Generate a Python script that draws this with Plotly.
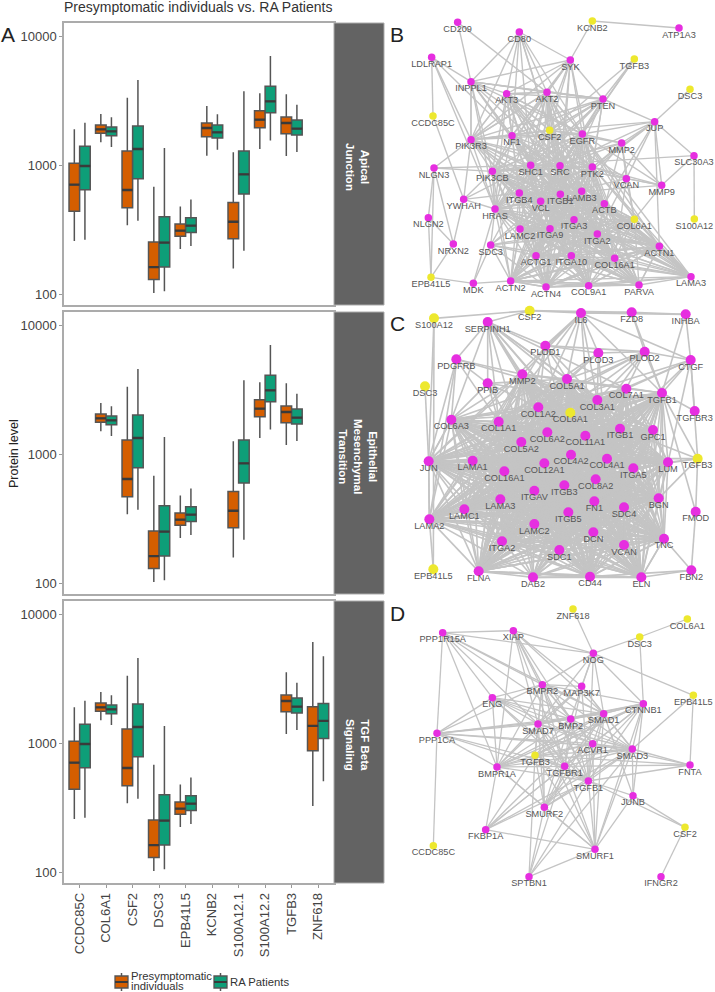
from itertools import combinations

import plotly.graph_objects as go

W, H = 715, 992

# protein levels
GENES = ["CCDC85C", "COL6A1", "CSF2", "DSC3", "EPB41L5", "KCNB2", "S100A12.1", "S100A12.2", "TGFB3", "ZNF618"]
PRE_LOW = [258, 1510, 342, 102, 224, 1189, 158, 1340, 1183, 326]
PRE_Q1 = [439, 1773, 469, 130, 281, 1671, 269, 1963, 1762, 875]
PRE_MED = [708, 1905, 643, 162, 311, 1950, 365, 2265, 2133, 1368]
PRE_Q3 = [1036, 2057, 1292, 254, 350, 2133, 515, 2660, 2376, 1923]
PRE_HIGH = [1905, 2506, 3357, 683, 480, 2891, 1262, 3630, 3565, 6124]
RA_LOW = [264, 1388, 372, 105, 236, 1324, 217, 1563, 1271, 508]
RA_Q1 = [647, 1700, 788, 162, 301, 1631, 598, 2566, 1722, 1091]
RA_MED = [988, 1837, 1340, 251, 340, 1805, 851, 3141, 1928, 1496]
RA_Q3 = [1406, 1986, 2022, 399, 392, 2057, 1292, 4111, 2249, 2042]
RA_HIGH = [2147, 2360, 4607, 1364, 544, 2490, 3758, 7079, 2962, 4742]

PANEL_1_GENES = ["CCDC85C", "COL6A1", "CSF2", "DSC3", "EPB41L5", "KCNB2", "S100A12.1", "S100A12.2", "TGFB3"]
PANEL_2_GENES = ["COL6A1", "CSF2", "DSC3", "EPB41L5", "S100A12.1", "S100A12.2", "TGFB3"]
PANEL_3_GENES = ["CCDC85C", "COL6A1", "CSF2", "DSC3", "EPB41L5", "TGFB3", "ZNF618"]
STRIP_LABELS = ["<b>Apical<br>Junction</b>", "<b>Epithelial<br>Mesenchymal<br>Transition</b>",
                "<b>TGF Beta<br>Signaling</b>"]

TICK_VALUES = [100, 1000, 10000]
TICK_LABELS = ["100", "1000", "10000"]

# network B: node layout
B_NAMES = ["CD209", "KCNB2", "ATP1A3", "CD80", "LDLRAP1", "SYK", "TGFB3", "INPPL1", "DSC3", "AKT3", "AKT2", "PTEN",
           "CCDC85C", "JUP", "CSF2", "EGFR", "NF1", "PIK3R3", "MMP2", "SLC30A3", "NLGN3", "SHC1", "SRC", "PTK2",
           "PIK3CB", "VCAN", "MMP9", "ITGB4", "ITGB1", "LAMB3", "YWHAH", "VCL", "ACTB", "HRAS", "NLGN2", "ITGA3",
           "COL6A1", "S100A12", "LAMC2", "ITGA9", "ITGA2", "NRXN2", "SDC3", "ACTN1", "ACTG1", "ITGA10", "COL16A1",
           "EPB41L5", "LAMA3", "MDK", "ACTN2", "ACTN4", "COL9A1", "PARVA"]
B_X = [218, 622, 882, 403, 140, 556, 748, 258, 915, 365, 486, 654,
       144, 809, 494, 592, 381, 258, 710, 927, 147, 437, 525, 622,
       322, 724, 830, 403, 526, 590, 236, 467, 658, 330, 130, 567,
       748, 928, 405, 495, 637, 205, 317, 823, 453, 559, 689,
       138, 918, 265, 377, 483, 611, 762]
B_Y = [67, 63, 84, 96, 172, 180, 177, 245, 268, 281, 277, 297,
       348, 365, 391, 402, 407, 419, 429, 467, 504, 496, 497, 501,
       514, 536, 556, 579, 583, 574, 598, 604, 611, 627, 653, 659,
       658, 657, 687, 686, 702, 732, 735, 739, 767, 767, 775,
       832, 830, 850, 843, 861, 857, 855]
B_YELLOW = ["KCNB2", "TGFB3", "DSC3", "CCDC85C", "CSF2", "COL6A1", "S100A12", "EPB41L5"]
B_GROUPS = [
    ["ITGB4", "ITGB1", "LAMB3", "VCL", "ACTB", "ITGA3", "LAMC2", "ITGA9", "ITGA2", "ACTG1", "ITGA10", "COL16A1",
     "ACTN2", "ACTN4", "COL9A1", "PARVA", "LAMA3", "ACTN1", "COL6A1"],
    ["SHC1", "SRC", "PTK2", "EGFR", "ITGB1", "ITGB4", "VCL", "ACTB", "ITGA2", "ITGA3", "ACTN1", "ACTN4", "PARVA",
     "HRAS", "PIK3CB", "ITGA9", "ITGA10", "LAMC2", "LAMB3", "ACTG1", "ACTN2", "COL16A1", "COL9A1", "LAMA3"],
    ["AKT3", "AKT2", "NF1", "PIK3R3", "PIK3CB", "SHC1", "SRC", "PTK2", "EGFR", "HRAS", "PTEN", "INPPL1"],
    ["PIK3R3", "NF1", "CSF2", "EGFR", "AKT2", "AKT3", "ITGB1", "ITGB4", "VCL", "ACTB", "ITGA2", "ITGA3", "LAMB3",
     "ITGA9"],
]
B_EDGES = [
    ("KCNB2", "ATP1A3"), ("KCNB2", "SYK"), ("CD209", "INPPL1"), ("CD209", "AKT2"), ("CD80", "INPPL1"),
    ("CD80", "AKT3"), ("CD80", "AKT2"), ("CD80", "SYK"), ("CD80", "NF1"), ("CD80", "PIK3R3"), ("CD80", "CSF2"),
    ("CD80", "EGFR"), ("CD80", "SRC"), ("CD80", "SHC1"), ("LDLRAP1", "CCDC85C"), ("LDLRAP1", "INPPL1"),
    ("LDLRAP1", "PIK3R3"), ("LDLRAP1", "HRAS"), ("LDLRAP1", "NF1"), ("CCDC85C", "YWHAH"), ("SYK", "INPPL1"),
    ("SYK", "AKT3"), ("SYK", "AKT2"), ("SYK", "PTEN"), ("SYK", "PIK3R3"), ("SYK", "NF1"), ("SYK", "EGFR"),
    ("SYK", "SHC1"), ("SYK", "SRC"), ("SYK", "PTK2"), ("SYK", "PIK3CB"), ("SYK", "CSF2"), ("SYK", "ITGB1"),
    ("TGFB3", "PTEN"), ("TGFB3", "CSF2"), ("TGFB3", "EGFR"), ("TGFB3", "SRC"), ("DSC3", "JUP"), ("JUP", "SLC30A3"),
    ("JUP", "MMP9"), ("JUP", "PTEN"), ("JUP", "EGFR"), ("JUP", "CSF2"), ("JUP", "MMP2"), ("JUP", "ACTN1"),
    ("JUP", "PTK2"), ("JUP", "SRC"), ("JUP", "VCAN"), ("JUP", "ITGB1"), ("JUP", "ACTB"), ("SLC30A3", "S100A12"),
    ("SLC30A3", "MMP9"), ("SLC30A3", "SHC1"), ("MMP9", "COL6A1"), ("MMP9", "EGFR"), ("MMP9", "MMP2"),
    ("MMP9", "VCAN"), ("MMP9", "PTK2"), ("MMP9", "LAMB3"), ("MMP9", "SRC"), ("NLGN3", "NLGN2"), ("NLGN3", "NRXN2"),
    ("NLGN3", "EPB41L5"), ("NLGN3", "PIK3R3"), ("NLGN3", "PIK3CB"), ("NLGN3", "SHC1"), ("NLGN2", "NRXN2"),
    ("NLGN2", "EPB41L5"), ("NRXN2", "EPB41L5"), ("NRXN2", "YWHAH"), ("EPB41L5", "MDK"), ("MDK", "SDC3"),
    ("MDK", "HRAS"), ("MDK", "ACTN2"), ("YWHAH", "PIK3CB"), ("YWHAH", "PIK3R3"), ("YWHAH", "SHC1"), ("YWHAH", "HRAS"),
    ("YWHAH", "ITGB4"), ("SDC3", "HRAS"), ("SDC3", "ITGB4"), ("SDC3", "VCL"), ("SDC3", "ITGA2"), ("SDC3", "ACTN2"),
    ("SDC3", "ACTN4"), ("SDC3", "LAMA3"), ("SDC3", "COL6A1"), ("SDC3", "ITGB1"), ("SDC3", "ACTG1"),
    ("INPPL1", "PIK3R3"), ("INPPL1", "NF1"), ("INPPL1", "PTEN"), ("PIK3R3", "ITGB1"), ("PIK3R3", "ITGB4"),
    ("PIK3CB", "ITGB1"), ("PIK3CB", "ITGB4"), ("PIK3CB", "ITGA2"), ("PIK3CB", "ACTB"), ("CSF2", "SRC"),
    ("CSF2", "SHC1"), ("CSF2", "ITGB1"), ("CSF2", "PIK3R3"), ("CSF2", "EGFR"), ("CSF2", "VCAN"), ("CSF2", "HRAS"),
    ("CSF2", "MMP2"), ("CSF2", "AKT2"), ("CSF2", "PTEN"), ("EGFR", "COL6A1"), ("EGFR", "MMP2"), ("EGFR", "ACTN2"),
    ("EGFR", "ITGA10"), ("MMP2", "COL6A1"), ("MMP2", "ITGB1"), ("MMP2", "LAMB3"), ("MMP2", "SRC"), ("MMP2", "SHC1"),
    ("MMP2", "ITGA2"), ("MMP2", "VCAN"), ("VCAN", "COL6A1"), ("VCAN", "ITGB1"), ("VCAN", "ITGA2"), ("VCAN", "PTK2"),
    ("VCAN", "SRC"), ("VCAN", "COL16A1"), ("PTEN", "PTK2"), ("PTEN", "ITGB1"), ("PTEN", "SHC1"), ("PTEN", "CSF2"),
]

# network C
C_NAMES = ["S100A12", "CSF2", "IL6", "FZD8", "INHBA", "SERPINH1", "PLOD1", "PLOD3", "PLOD2", "PDGFRB", "CTGF", "MMP2",
           "COL5A1", "PPIB", "DSC3", "COL7A1", "TGFB1", "COL3A1", "COL1A2", "COL6A1", "TGFBR3", "COL6A3", "COL1A1",
           "ITGB1", "GPC1", "COL6A2", "COL11A1", "COL5A2", "COL4A2", "TGFB3", "JUN", "LAMA1", "COL4A1", "LUM",
           "COL12A1", "ITGA5", "COL16A1", "COL8A2", "ITGB3", "ITGAV", "LAMA3", "BGN", "FN1", "SDC4", "LAMC1", "FMOD",
           "ITGB5", "LAMA2", "LAMC2", "DCN", "TNC", "ITGA2", "VCAN", "SDC1", "EPB41L5", "FBN2", "FLNA", "DAB2",
           "CD44", "ELN"]
C_X = [147, 434, 588, 740, 902, 308, 481, 640, 779, 214, 917, 412,
       546, 308, 120, 724, 831, 637, 460, 556, 929, 199, 341,
       705, 804, 487, 601, 409, 558, 938, 131, 263, 666, 849,
       478, 745, 358, 632, 538, 448, 346, 821, 628, 717, 238, 932,
       550, 133, 448, 625, 837, 351, 717, 523, 145, 919, 281, 444,
       615, 769]
C_Y = [55, 32, 39, 37, 43, 66, 137, 159, 155, 178, 180, 223,
       237, 250, 259, 266, 279, 300, 322, 338, 333, 359, 365,
       386, 390, 397, 407, 426, 464, 476, 484, 482, 476, 487,
       490, 505, 514, 538, 556, 572, 598, 595, 604, 622, 628, 635,
       637, 658, 672, 697, 716, 724, 735, 750, 808, 811, 814, 832,
       830, 832]
C_YELLOW = ["S100A12", "CSF2", "DSC3", "COL6A1", "TGFB3", "EPB41L5"]
C_GROUPS = [
    ["MMP2", "COL5A1", "COL7A1", "TGFB1", "COL3A1", "COL1A2", "COL6A3", "COL1A1", "ITGB1", "GPC1", "COL6A2", "COL6A1",
     "COL11A1", "COL5A2", "COL4A2", "COL4A1", "LUM", "COL12A1", "ITGA5", "COL16A1", "COL8A2", "ITGB3", "ITGAV",
     "BGN", "FN1", "SDC4", "ITGB5", "DCN", "TNC", "ITGA2", "VCAN", "SDC1", "LAMA3", "LAMC2", "CD44", "ELN", "LAMA2",
     "JUN", "FLNA", "LAMA1", "LAMC1"],
    ["FLNA", "DAB2", "CD44", "ELN", "ITGB1", "ITGA2", "ITGA5", "ITGB3", "ITGAV", "FN1", "COL1A1", "COL3A1", "COL5A2",
     "COL8A2", "TNC", "DCN", "VCAN", "SDC4", "ITGB5"],
]
C_EDGES = [
    ("S100A12", "CSF2"), ("S100A12", "EPB41L5"), ("CSF2", "IL6"), ("CSF2", "SERPINH1"), ("CSF2", "FZD8"),
    ("IL6", "FZD8"), ("IL6", "INHBA"), ("FZD8", "INHBA"), ("FZD8", "PLOD2"), ("FZD8", "TGFB1"), ("INHBA", "CTGF"),
    ("INHBA", "TGFB1"), ("DSC3", "JUN"), ("EPB41L5", "LAMA2"), ("CTGF", "TGFB1"), ("CTGF", "TGFB3"),
    ("CTGF", "TGFBR3"), ("CTGF", "PLOD2"), ("CTGF", "COL7A1"), ("CTGF", "COL3A1"), ("CTGF", "COL1A2"), ("CTGF", "LUM"),
    ("CTGF", "ITGB1"), ("CTGF", "IL6"), ("TGFBR3", "TGFB1"), ("TGFB1", "TGFB3"), ("TGFB3", "FMOD"), ("TGFB3", "LUM"),
    ("TGFB3", "BGN"), ("TGFB3", "ITGB1"), ("TGFB3", "COL4A1"), ("TGFB3", "ITGA5"), ("TGFB1", "FMOD"), ("FBN2", "ELN"),
    ("FBN2", "TNC"), ("FBN2", "FMOD"), ("FBN2", "CD44"), ("JUN", "LAMA2"), ("JUN", "S100A12"), ("JUN", "COL6A3"),
    ("LAMA2", "FLNA"), ("LAMA2", "DAB2"), ("SERPINH1", "PDGFRB"), ("SERPINH1", "PLOD1"), ("SERPINH1", "MMP2"),
    ("SERPINH1", "COL1A1"), ("SERPINH1", "COL1A2"), ("SERPINH1", "COL3A1"), ("SERPINH1", "COL5A1"),
    ("SERPINH1", "COL5A2"), ("SERPINH1", "COL6A3"), ("SERPINH1", "PPIB"), ("SERPINH1", "COL4A1"),
    ("SERPINH1", "COL4A2"), ("SERPINH1", "COL11A1"), ("SERPINH1", "ITGB1"), ("SERPINH1", "COL7A1"),
    ("IL6", "PLOD1"), ("IL6", "MMP2"), ("IL6", "TGFB1"), ("IL6", "COL1A1"), ("IL6", "COL3A1"), ("IL6", "JUN"),
    ("IL6", "FN1"), ("IL6", "PLOD3"), ("IL6", "COL5A1"), ("IL6", "COL1A2"), ("PLOD1", "PLOD3"), ("PLOD1", "PLOD2"),
    ("PLOD1", "COL1A2"), ("PLOD1", "COL3A1"), ("PLOD1", "COL5A1"), ("PLOD1", "COL1A1"), ("PLOD1", "COL5A2"),
    ("PLOD1", "COL4A2"), ("PLOD3", "PLOD2"), ("PLOD3", "COL1A1"), ("PLOD3", "COL3A1"), ("PLOD3", "COL5A1"),
    ("PLOD3", "COL1A2"), ("PLOD3", "COL4A1"), ("PLOD2", "COL1A1"), ("PLOD2", "COL3A1"), ("PLOD2", "COL5A1"),
    ("PLOD2", "COL1A2"), ("PLOD2", "COL5A2"), ("PLOD2", "COL7A1"), ("PLOD2", "TGFB1"), ("PLOD2", "COL4A2"),
    ("PDGFRB", "JUN"), ("PDGFRB", "COL1A1"), ("PDGFRB", "PPIB"), ("PDGFRB", "COL6A3"), ("PDGFRB", "MMP2"),
    ("PDGFRB", "LAMA2"), ("PDGFRB", "COL3A1"), ("PPIB", "COL1A1"), ("PPIB", "COL1A2"), ("PPIB", "COL3A1"),
    ("PPIB", "COL6A3"), ("PPIB", "COL5A1"), ("PPIB", "COL5A2"), ("DAB2", "COL6A3"), ("DAB2", "COL1A2"),
    ("DAB2", "COL4A2"), ("DAB2", "SDC1"), ("CD44", "TNC"), ("COL6A3", "ITGA2"),
]

# network D
D_NAMES = ["ZNF618", "COL6A1", "PPP1R15A", "XIAP", "DSC3", "NOG", "BMPR2", "MAP3K7", "EPB41L5", "ENG", "CTNNB1",
           "SMAD1", "BMP2", "SMAD7", "PPP1CA", "ACVR1", "SMAD3", "TGFB3", "FNTA", "BMPR1A", "TGFBR1", "TGFB1", "JUNB",
           "SMURF2", "FKBP1A", "CSF2", "CCDC85C", "SMURF1", "IFNGR2", "SPTBN1"]
D_X = [564, 907, 173, 385, 764, 625, 472, 590, 925, 322, 775,
       656, 557, 459, 156, 623, 742, 450, 915, 336, 539, 610, 744,
       478, 302, 900, 145, 630, 828, 432]
D_Y = [57, 87, 128, 122, 141, 190, 284, 289, 316, 323, 341,
       371, 387, 402, 430, 461, 477, 496, 525, 531, 529, 573, 617,
       652, 719, 712, 767, 778, 860, 860]
D_YELLOW = ["ZNF618", "COL6A1", "DSC3", "EPB41L5", "TGFB3", "CSF2", "CCDC85C"]
D_GROUPS = [
    ["BMPR2", "SMAD1", "BMP2", "SMAD7", "ACVR1", "SMAD3", "TGFB3", "BMPR1A", "TGFBR1", "TGFB1", "SMURF2", "CTNNB1"],
]
D_EDGES = [
    ("ZNF618", "NOG"), ("COL6A1", "DSC3"), ("DSC3", "NOG"), ("DSC3", "CTNNB1"), ("NOG", "EPB41L5"), ("NOG", "XIAP"),
    ("NOG", "PPP1R15A"), ("NOG", "BMPR2"), ("NOG", "MAP3K7"), ("NOG", "SMAD1"), ("NOG", "BMP2"), ("NOG", "CTNNB1"),
    ("NOG", "SMAD7"), ("NOG", "TGFB1"), ("EPB41L5", "FNTA"), ("EPB41L5", "SMAD3"), ("CCDC85C", "PPP1CA"),
    ("PPP1CA", "PPP1R15A"), ("PPP1R15A", "XIAP"), ("PPP1R15A", "ENG"), ("PPP1R15A", "BMPR2"), ("PPP1R15A", "SMAD7"),
    ("PPP1R15A", "SMAD1"), ("PPP1R15A", "BMP2"), ("PPP1R15A", "BMPR1A"), ("XIAP", "BMPR2"), ("XIAP", "MAP3K7"),
    ("XIAP", "BMP2"), ("XIAP", "SMAD7"), ("XIAP", "SMAD1"), ("XIAP", "BMPR1A"), ("XIAP", "TGFBR1"), ("XIAP", "TGFB1"),
    ("ENG", "BMPR2"), ("ENG", "SMAD1"), ("ENG", "SMAD3"), ("ENG", "SMAD7"), ("ENG", "BMP2"), ("ENG", "PPP1CA"),
    ("ENG", "TGFBR1"), ("ENG", "TGFB1"), ("ENG", "BMPR1A"), ("ENG", "ACVR1"), ("PPP1CA", "SMAD7"), ("PPP1CA", "BMP2"),
    ("PPP1CA", "SMAD1"), ("PPP1CA", "BMPR2"), ("PPP1CA", "SMAD3"), ("PPP1CA", "TGFBR1"), ("PPP1CA", "TGFB1"),
    ("PPP1CA", "ACVR1"), ("PPP1CA", "BMPR1A"), ("MAP3K7", "BMPR2"), ("MAP3K7", "TGFB1"), ("MAP3K7", "TGFBR1"),
    ("MAP3K7", "SMAD3"), ("MAP3K7", "BMPR1A"), ("MAP3K7", "SMAD7"), ("MAP3K7", "SMAD1"), ("CTNNB1", "SMAD1"),
    ("CTNNB1", "JUNB"), ("CTNNB1", "TGFB3"), ("CTNNB1", "SMURF1"), ("SMAD3", "FNTA"), ("SMAD3", "JUNB"),
    ("SMAD3", "SMURF1"), ("SMAD3", "FKBP1A"), ("SMAD3", "SPTBN1"), ("SMAD3", "SMURF2"), ("FNTA", "TGFB1"),
    ("FNTA", "TGFBR1"), ("FNTA", "TGFB3"), ("FNTA", "ACVR1"), ("JUNB", "TGFB1"), ("JUNB", "SMURF1"), ("JUNB", "SMAD1"),
    ("CSF2", "TGFB1"), ("CSF2", "JUNB"), ("CSF2", "IFNGR2"), ("FKBP1A", "SMURF1"), ("FKBP1A", "TGFBR1"),
    ("FKBP1A", "TGFB1"), ("FKBP1A", "BMPR1A"), ("FKBP1A", "TGFB3"), ("FKBP1A", "ACVR1"), ("FKBP1A", "SMAD1"),
    ("SMURF1", "TGFB1"), ("SMURF1", "TGFBR1"), ("SMURF1", "SMURF2"), ("SMURF1", "BMPR1A"), ("SMURF1", "ACVR1"),
    ("SMURF1", "SPTBN1"), ("SMURF1", "SMAD1"), ("SMURF1", "SMAD7"), ("SMURF1", "TGFB3"), ("SPTBN1", "TGFB3"),
    ("SPTBN1", "TGFBR1"), ("SPTBN1", "SMURF2"), ("SPTBN1", "TGFB1"),
]


def px_x(px):
    return px / W


def px_y(px):
    return 1 - px / H


def pick(values, genes):
    return [values[GENES.index(g)] for g in genes]


def add_text(fig, x, y, text, size, color, xanchor="center", angle=0):
    fig.add_annotation(x=px_x(x), y=px_y(y), xref="paper", yref="paper", text=text, showarrow=False,
                       xanchor=xanchor, yanchor="middle", textangle=angle,
                       font=dict(family="Liberation Sans", size=size, color=color))


def add_boxes(fig, genes, n):
    axes = dict(xaxis=f"x{n}", yaxis=f"y{n}", showlegend=False)
    groups = [
        ("pre", "Presymptomatic individuals", "#D55E00", PRE_LOW, PRE_Q1, PRE_MED, PRE_Q3, PRE_HIGH),
        ("ra", "RA Patients", "#0E9E78", RA_LOW, RA_Q1, RA_MED, RA_Q3, RA_HIGH),
    ]
    for key, name, color, low, q1, med, q3, high in groups:
        fig.add_trace(go.Box(
            x=genes, q1=pick(q1, genes), median=pick(med, genes), q3=pick(q3, genes),
            lowerfence=pick(low, genes), upperfence=pick(high, genes),
            name=name, fillcolor=color, whiskerwidth=0,
            line=dict(color="#555555", width=1.5), boxpoints=False, hoverinfo="skip",
            alignmentgroup=f"g{n}", offsetgroup=key, **axes))
    # thicker median bars, as ggplot draws them
    for key, med in (("pre", PRE_MED), ("ra", RA_MED)):
        m = pick(med, genes)
        fig.add_trace(go.Box(
            x=genes, q1=m, median=m, q3=m, lowerfence=m, upperfence=m, whiskerwidth=0,
            line=dict(color="#3A3A3A", width=2.4), boxpoints=False, hoverinfo="skip",
            alignmentgroup=f"g{n}", offsetgroup=key, **axes))


def add_network(fig, n, names, xs, ys, yellow, groups, edges, size, edge_width, top, bottom, span):
    pos = {name: (x, y) for name, x, y in zip(names, xs, ys)}
    pairs = set(edges)
    for group in groups:
        pairs.update(combinations(group, 2))
    edge_x, edge_y = [], []
    for a, b in sorted(pairs):
        edge_x += [pos[a][0], pos[b][0], None]
        edge_y += [pos[a][1], pos[b][1], None]
    axes = dict(xaxis=f"x{n}", yaxis=f"y{n}", showlegend=False, hoverinfo="skip")
    fig.add_trace(go.Scatter(x=edge_x, y=edge_y, mode="lines", line=dict(color="#C4C4C4", width=edge_width), **axes))
    colors = ["#EDE82E" if name in yellow else "#E62EE0" for name in names]
    fig.add_trace(go.Scatter(x=xs, y=ys, mode="markers", marker=dict(color=colors, size=size), **axes))
    # the invisible marker only pushes the label down below the node
    fig.add_trace(go.Scatter(x=xs, y=ys, mode="markers+text", text=names, textposition="bottom center",
                             marker=dict(size=3, color="rgba(0,0,0,0)"),
                             textfont=dict(family="Liberation Sans", size=9.2, color="#555555"), **axes))
    fig.update_layout({
        f"xaxis{n}": dict(domain=[px_x(385), px_x(715)], range=[0, 990], visible=False, anchor=f"y{n}"),
        f"yaxis{n}": dict(domain=[px_y(bottom), px_y(top)], range=[span, 0], visible=False, anchor=f"x{n}"),
    })


def add_legend_key(fig, x0, x1, color):
    mid = (x0 + x1) / 2
    common = dict(type="line", xref="paper", yref="paper")
    fig.add_shape(x0=px_x(mid), x1=px_x(mid), y0=px_y(973), y1=px_y(991), line=dict(color="#555555", width=1.5), **common)
    fig.add_shape(type="rect", xref="paper", yref="paper", x0=px_x(x0), x1=px_x(x1), y0=px_y(976), y1=px_y(988),
                  fillcolor=color, line=dict(color="#555555", width=1.3))
    fig.add_shape(x0=px_x(x0), x1=px_x(x1), y0=px_y(982), y1=px_y(982), line=dict(color="#3A3A3A", width=2), **common)


fig = go.Figure()

panels = [(PANEL_1_GENES, 23, 305), (PANEL_2_GENES, 312, 594), (PANEL_3_GENES, 601, 883)]
for i, (genes, top, bottom) in enumerate(panels):
    n = i + 1
    add_boxes(fig, genes, n)
    last = i == 2
    fig.update_layout({
        f"xaxis{n}": dict(
            domain=[px_x(64), px_x(334)], anchor=f"y{n}", type="category", categoryorder="array", categoryarray=GENES,
            tickmode="array", tickvals=GENES, range=[-0.59, 9.6], showticklabels=last, tickangle=-90,
            tickfont=dict(family="Liberation Sans", size=13, color="#444444"),
            ticks="outside" if last else "", ticklen=3, tickcolor="#999999", showgrid=False, zeroline=False,
            showline=True, mirror=True, linecolor="#ABABAB", linewidth=1.5),
        f"yaxis{n}": dict(
            domain=[px_y(bottom), px_y(top)], anchor=f"x{n}", type="log", range=[1.915, 4.106],
            tickmode="array", tickvals=TICK_VALUES, ticktext=TICK_LABELS,
            tickfont=dict(family="Liberation Sans", size=13, color="#444444"),
            ticks="outside", ticklen=3, tickcolor="#999999", showgrid=False, zeroline=False,
            showline=True, mirror=True, linecolor="#ABABAB", linewidth=1.5),
    })
    fig.add_shape(type="rect", xref="paper", yref="paper", x0=px_x(334), x1=px_x(384), y0=px_y(bottom), y1=px_y(top),
                  fillcolor="#636363", line=dict(color="#ABABAB", width=1))
    add_text(fig, 358, (top + bottom) / 2 + 3, STRIP_LABELS[i], 11.5, "white", angle=90)

add_network(fig, 4, B_NAMES, B_X, B_Y, B_YELLOW, B_GROUPS, B_EDGES, 7.5, 1.4, 0, 310, 930)
add_network(fig, 5, C_NAMES, C_X, C_Y, C_YELLOW, C_GROUPS, C_EDGES, 10, 1.6, 300, 600, 900)
add_network(fig, 6, D_NAMES, D_X, D_Y, D_YELLOW, D_GROUPS, D_EDGES, 7.5, 1.3, 590, 890, 900)

letters = [("A", 8, 34), ("B", 397, 34), ("C", 397, 323), ("D", 397, 613)]
for letter, x, y in letters:
    add_text(fig, x, y, letter, 21, "#222222")
add_text(fig, 62, 6.5, "Presymptomatic individuals vs. RA Patients", 14, "#333333", xanchor="left")
add_text(fig, 14, 454, "Protein level", 12.5, "#222222", angle=-90)

add_legend_key(fig, 115, 128, "#D55E00")
add_legend_key(fig, 214, 227, "#0E9E78")
add_text(fig, 129, 976, "Presymptomatic", 11.3, "#333333", xanchor="left")
add_text(fig, 129, 985.5, "individuals", 11.3, "#333333", xanchor="left")
add_text(fig, 228, 982, "RA Patients", 11.3, "#333333", xanchor="left")

fig.update_layout(
    width=W, height=H, margin=dict(l=0, r=0, t=0, b=0), paper_bgcolor="white", plot_bgcolor="white",
    boxmode="group", boxgap=0.2, boxgroupgap=0, showlegend=False,
)
# the page's default body margin would push the figure 8px off the window
fig.write_html("out.html", config={"displayModeBar": False}, post_script="document.body.style.margin='0';")
